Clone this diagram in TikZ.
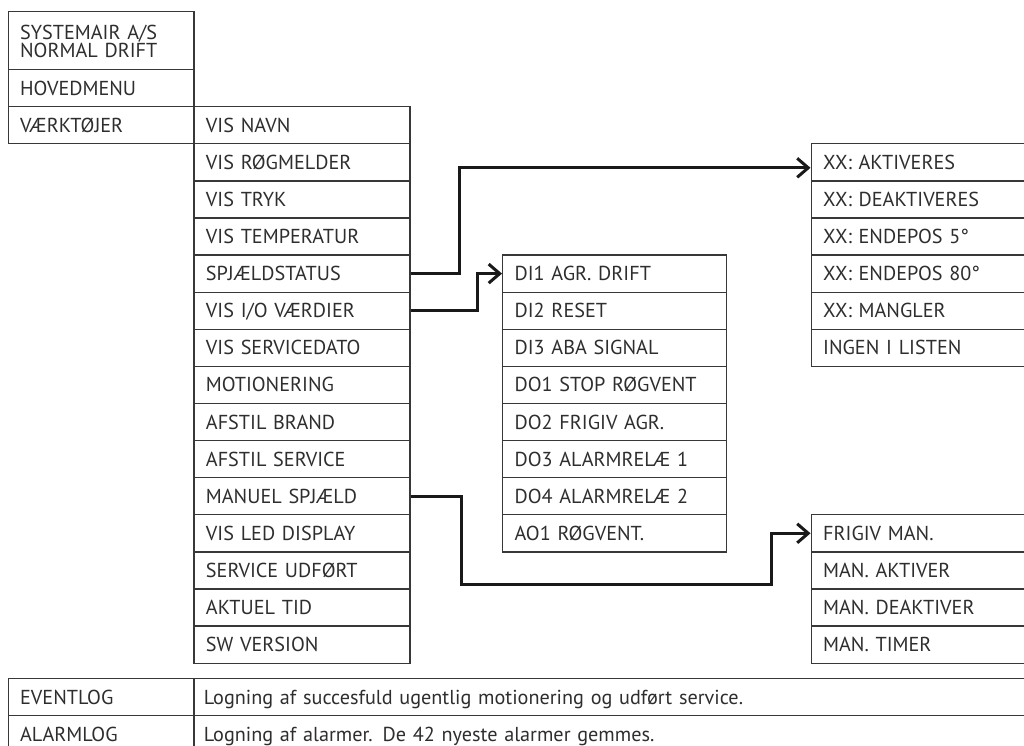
\documentclass[tikz,border=0pt]{standalone}
\usepackage{fontspec}
\setmainfont{PT Sans}
\usetikzlibrary{arrows.meta,calc}
\begin{document}
\begin{tikzpicture}[x=1pt,y=-1pt,
  cell/.style={draw=black!78, line width=1.3pt, rectangle, anchor=north west,
    inner xsep=12pt, inner ysep=0pt, minimum height=37.1pt,
    text height=14pt, text depth=0pt, align=left, text=black!82,
    font=\fontsize{20.2}{17}\selectfont},
  colA/.style={cell, text width=161.8pt},
  colB/.style={cell, text width=192pt},
  colC/.style={cell, text width=199.5pt},
  colD/.style={cell, text width=215.5pt},
  colT/.style={cell, inner xsep=10pt, text width=836.7pt},
  conn/.style={line width=3pt, draw=black!90,
    -{Straight Barb[length=11pt,width=19pt]}}
]
\useasboundingbox (0,0) rectangle (1024,745);
\fill[white] (0,0) rectangle (1024,745);
\clip (0,0) rectangle (1024,745);

% column A
\node[colA, minimum height=58.3pt, text depth=17pt] (sys) at (7.5,10.7) {SYSTEMAIR A/S\\NORMAL DRIFT};
\node[colA] (hov) at (7.5,69) {HOVEDMENU};
\node[colA] (vaerk) at (7.5,106) {VÆRKTØJER};

% column B
\foreach \t [count=\i from 0] in {VIS NAVN, VIS RØGMELDER, VIS TRYK, VIS TEMPERATUR,
  SPJÆLDSTATUS, VIS I/O VÆRDIER, VIS SERVICEDATO, MOTIONERING, AFSTIL BRAND,
  AFSTIL SERVICE, MANUEL SPJÆLD, VIS LED DISPLAY, SERVICE UDFØRT, AKTUEL TID, SW VERSION}
  \node[colB] (b\i) at (193.3,{106+37.1*\i}) {\t};

% column C (I/O)
\foreach \t [count=\i from 0] in {DI1 AGR. DRIFT, DI2 RESET, DI3 ABA SIGNAL,
  DO1 STOP RØGVENT, DO2 FRIGIV AGR., DO3 ALARMRELÆ 1, DO4 ALARMRELÆ 2, AO1 RØGVENT.}
  \node[colC] (c\i) at (502,{254.4+37.1*\i}) {\t};

% column D (spjældstatus)
\foreach \t [count=\i from 0] in {XX: AKTIVERES, XX: DEAKTIVERES, XX: ENDEPOS 5°,
  XX: ENDEPOS 80°, XX: MANGLER, INGEN I LISTEN}
  \node[colD] (d\i) at (810.5,{143.1+37.1*\i}) {\t};

% column E (manuel spjæld)
\foreach \t [count=\i from 0] in {FRIGIV MAN., MAN. AKTIVER, MAN. DEAKTIVER, MAN. TIMER}
  \node[colD] (e\i) at (810.5,{514.1+37.1*\i}) {\t};

% bottom table
\node[colA] (ev) at (7.5,678) {EVENTLOG};
\node[colT] (evt) at (193.3,678) {Logning af succesfuld ugentlig motionering og udført service.};
\node[colA] (al) at (7.5,715) {ALARMLOG};
\node[colT] (alt) at (193.3,715) {Logning af alarmer. De 42 nyeste alarmer gemmes.};

% connectors
\draw[conn] (b4.east) -- ++(48.7,0) |- ([yshift=-5.5pt]d0.west);
\draw[conn] (b5.east) -- ++(66.7,0) |- (c0.west);
\coordinate (m2) at (771,584);
\draw[conn] (b10.east) -- ++(50.7,0) |- (m2) |- (e0.west);
\end{tikzpicture}
\end{document}
